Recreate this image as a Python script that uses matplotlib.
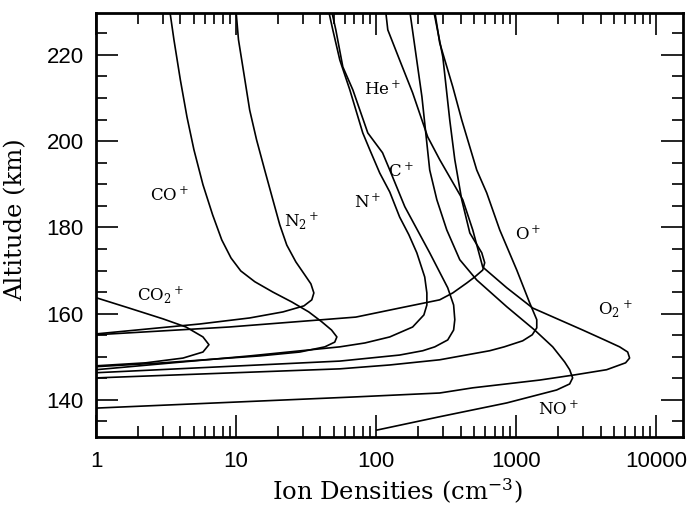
import matplotlib
matplotlib.use("Agg")
import matplotlib.pyplot as plt
from matplotlib.ticker import LogLocator, MultipleLocator, FixedLocator, FixedFormatter, NullFormatter

plt.rcParams['mathtext.fontset'] = 'dejavuserif'

# ion density profiles (cm^-3) vs altitude (km)
co2_n = [1.0, 1.72, 3.0, 4.39, 5.8, 6.4, 5.8, 4.18, 2.27, 1.0]
co2_alt = [163.7, 161.3, 158.8, 156.9, 154.6, 152.8, 151.1, 149.7, 148.6, 147.9]

co_n = [3.37, 3.6, 4.0, 4.46, 5.0, 5.8, 6.8, 7.9, 9.2, 10.8, 13.6, 18.3, 25, 33, 40.9, 48, 52.4,
        50.6, 43, 28.5, 14.8, 8.9, 3.0, 1.0]
co_alt = [230, 223.5, 214.2, 205.6, 198.0, 189.9, 182.9, 177.1, 172.9, 169.9, 167.4, 165.0, 162.7,
          160.4, 158.1, 156.2, 154.6, 153.4, 152.3, 151.1, 150.2, 149.7, 148.6, 147.7]

n2_n = [10.0, 10.4, 11.4, 12.5, 14.0, 16.0, 18.3, 20.5, 23.0, 26.7, 30.9, 34.2, 35.9, 34.7, 30.5,
        21.6, 12.5, 5.5, 2.43, 1.0]
n2_alt = [230, 223.5, 215.4, 207.2, 200.3, 193.3, 186.4, 180.6, 175.9, 172.0, 169.0, 166.9, 164.8,
          163.2, 161.8, 160.4, 159.0, 157.6, 156.5, 155.3]

n_n = [45.9, 49.0, 55.0, 64.8, 80.2, 90.0, 106, 125, 147, 171, 195, 222, 230, 230, 219, 182, 125,
       83, 55, 12.5, 1.0]
n_alt = [230, 225.8, 218.8, 211.9, 201.9, 198.0, 192.6, 188.2, 182.4, 178.3, 174.1, 168.5, 164.8,
         162.0, 159.7, 156.9, 154.6, 153.2, 152.3, 150.2, 147.0]

c_n = [48.2, 51.5, 57.8, 68.1, 87.1, 111, 125, 160, 241, 324, 357, 364, 357, 324, 262, 215, 147,
       90, 55, 1.0]
c_alt = [230, 225.8, 217.2, 211.9, 201.9, 197.3, 193.3, 184.8, 174.1, 166.0, 162.0, 158.6, 156.2,
         153.9, 152.3, 151.4, 150.4, 149.7, 149.0, 146.3]

he_n = [258, 299, 335, 364, 408, 466, 567, 595, 576, 505, 443, 352, 284, 147, 71.6, 8.9, 1.0]
he_alt = [230, 219.5, 204.9, 195.7, 186.4, 178.7, 174.1, 171.8, 170.1, 168.5, 167.1, 164.8, 163.2,
          161.3, 159.2, 156.9, 155.1]

o_n = [262, 284, 352, 408, 522, 615, 762, 1008, 1246, 1400, 1400, 1300, 1111, 820, 646, 284, 125,
       55, 1.0]
o_alt = [230, 222.8, 212.6, 204.9, 193.3, 188.0, 179.4, 170.1, 162.5, 158.6, 156.7, 155.1, 153.7,
         152.3, 151.4, 149.3, 148.1, 147.2, 145.1]

o2_n = [117, 121, 147, 182, 233, 284, 415, 489, 576, 855, 1309, 2978, 4270, 5465, 6240, 6440, 6030,
        4414, 2610, 1469, 489, 284, 71.6, 1.0]
o2_alt = [230, 225.8, 218.8, 211.2, 201.0, 195.7, 186.4, 179.4, 170.8, 166.0, 161.3, 156.2, 153.9,
          152.3, 151.1, 149.7, 148.6, 147.0, 145.8, 144.6, 142.8, 141.6, 140.7, 138.1]

no_n = [174, 212, 241, 271, 319, 395, 522, 855, 1352, 1820, 2214, 2404, 2525, 2404, 1941, 855, 284, 101]
no_alt = [230, 210.3, 193.3, 186.4, 179.4, 172.5, 167.8, 161.6, 156.2, 152.3, 148.8, 147.0, 145.1,
          143.7, 142.3, 139.3, 136.1, 133.0]

labels = [r'CO$_2$$^+$', r'CO$^+$', r'N$_2$$^+$', r'N$^+$', r'C$^+$', r'He$^+$', r'O$^+$', r'O$_2$$^+$', r'NO$^+$']
label_x = [2.91, 3.37, 29.5, 87, 150, 111, 1225, 5120, 2006]
label_y = [164.3, 187.5, 181.3, 185.7, 192.9, 211.9, 178.3, 160.9, 137.7]

xticks = [1, 10, 100, 1000, 10000]
xtick_labels = ['1', '10', '100', '1000', '10000']
yticks = [140, 160, 180, 200, 220]

fig = plt.figure(figsize=(6.91, 5.05), dpi=100)
ax = fig.add_axes([96/691, 1-437/505, (683-96)/691, (437-13)/505])

profiles = [(co2_n, co2_alt), (co_n, co_alt), (n2_n, n2_alt), (n_n, n_alt), (c_n, c_alt),
            (he_n, he_alt), (o_n, o_alt), (o2_n, o2_alt), (no_n, no_alt)]
for dens, alt in profiles:
    ax.plot(dens, alt, color='black', lw=1.2, solid_joinstyle='round')

for txt, x, y in zip(labels, label_x, label_y):
    ax.text(x, y, txt, ha='center', va='center', fontsize=12, family='DejaVu Serif')

ax.set_xscale('log')
ax.set_xlim(1, 10**4.19)
ax.set_ylim(131.4, 229.7)

ax.xaxis.set_major_locator(FixedLocator(xticks))
ax.xaxis.set_major_formatter(FixedFormatter(xtick_labels))
ax.xaxis.set_minor_locator(LogLocator(base=10, subs=range(2, 10)))
ax.xaxis.set_minor_formatter(NullFormatter())
ax.yaxis.set_major_locator(FixedLocator(yticks))
ax.yaxis.set_minor_locator(MultipleLocator(5))

ax.tick_params(which='both', direction='in', top=True, right=True, width=1.2)
ax.tick_params(which='major', length=16)
ax.tick_params(which='minor', length=8)
ax.tick_params(axis='x', pad=10, labelsize=16)
ax.tick_params(axis='y', pad=9, labelsize=16)
for lab in ax.get_xticklabels() + ax.get_yticklabels():
    lab.set_family('Liberation Sans')
for sp in ax.spines.values():
    sp.set_linewidth(2)

fig.text(397/691, 1-500/505, r'Ion Densities (cm$^{-3}$)', ha='center', va='baseline',
         fontsize=17.5, family='DejaVu Serif')
fig.text(16/691, 1-220/505, 'Altitude (km)', ha='center', va='center', rotation=90,
         fontsize=17.5, family='DejaVu Serif')

fig.savefig('out.png', dpi=100)
